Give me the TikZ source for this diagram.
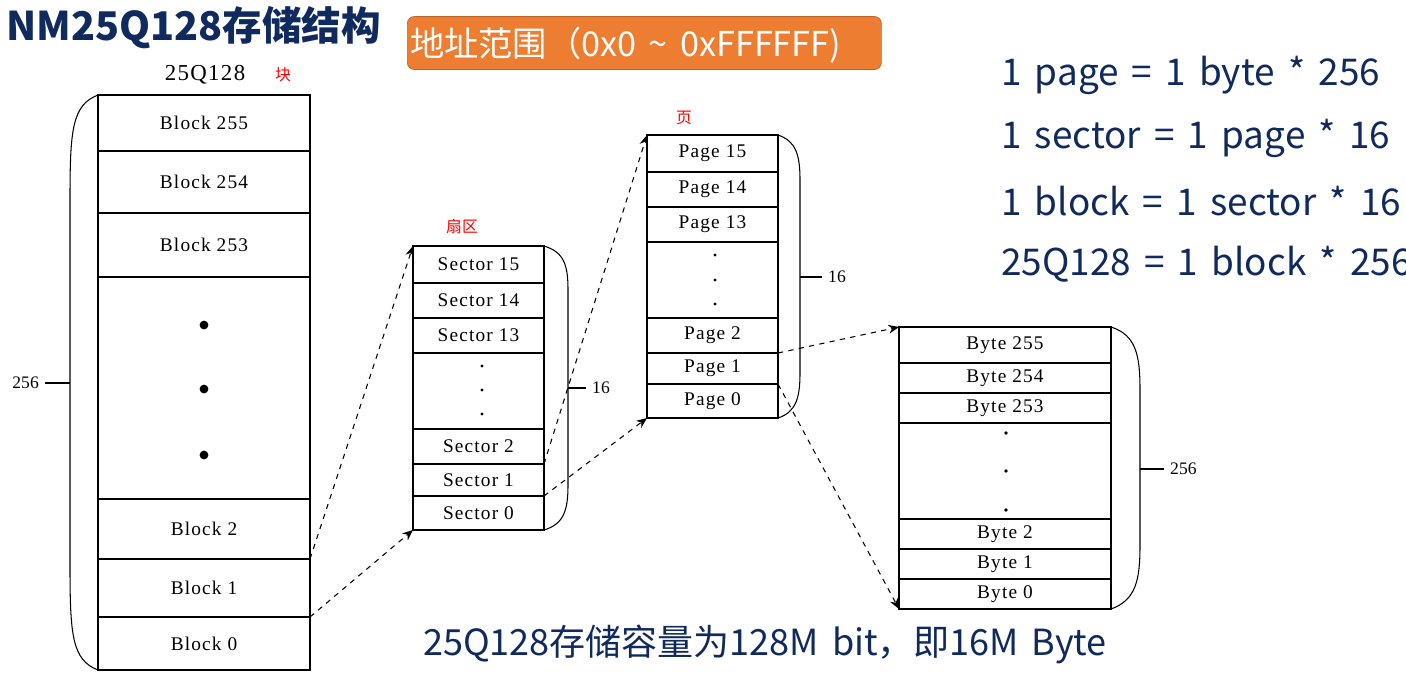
\documentclass[tikz,border=0pt]{standalone}
\usepackage{fontspec}
\setmainfont{Liberation Serif}
\newfontfamily\cjk{Noto Sans CJK SC}
\newfontfamily\cjkw[WordSpace=1.6]{Noto Sans CJK SC}
\newfontfamily\cellfont[LetterSpace=6]{Liberation Serif}
\usetikzlibrary{arrows.meta}
\definecolor{navy}{RGB}{16,42,94}
\definecolor{orng}{RGB}{237,125,49}
\newcommand\cellbox[6]{\node[cell,minimum width={#5*0.02cm},minimum height={(#4-#3)*0.02cm}] (#1) at ({#2+#5/2},{(#3+#4)/2}) {#6};}
\tikzset{cell/.style={draw,line width=0.6pt,inner sep=0pt,outer sep=0pt,font=\cellfont\fontsize{11}{13}\selectfont},
 conn/.style={dashed,line width=0.6pt,-{Stealth[length=6pt,width=5pt]}},
 brace/.style={line width=0.6pt},
 fml/.style={anchor=west,text=navy,font=\cjkw\fontsize{21}{24}\selectfont},
 redlbl/.style={text=red,font=\cjk\fontsize{9}{10}\selectfont},
 dotp/.style={circle,fill,inner sep=0pt,minimum size=#1}}
\begin{document}
\begin{tikzpicture}[x=0.02cm,y=-0.02cm]
\useasboundingbox (0,0) rectangle (1406,674);
\node[anchor=west,text=navy,font=\cjk\bfseries\fontsize{22.5}{26}\selectfont] (title) at (0,28) {NM25Q128存储结构};
\node[draw=orng!80!black,fill=orng,rounded corners=4pt,minimum width={474*0.02cm},minimum height={53*0.02cm},anchor=west] (range) at (407,43) {};
\node[anchor=west,text=white,font=\cjk\fontsize{19.5}{22}\selectfont] (rangetxt) at (404,45) {地址范围（0x0 \textasciitilde{} 0xFFFFFF)};
\node[font=\cellfont\fontsize{13}{15}\selectfont] (chip) at (205,75) {25Q128};
\node[redlbl] (kuai) at (283,75) {块};
\node[redlbl] (shan) at (462,226) {扇区};
\node[redlbl] (ye) at (684,118) {页};
% blocks
\cellbox{b255}{98}{95}{151}{212}{Block 255}
\cellbox{b254}{98}{151}{213}{212}{Block 254}
\cellbox{b253}{98}{213}{277}{212}{Block 253}
\cellbox{bdots}{98}{277}{499}{212}{}
\cellbox{b2}{98}{499}{559}{212}{Block 2}
\cellbox{b1}{98}{559}{617}{212}{Block 1}
\cellbox{b0}{98}{617}{670}{212}{Block 0}
\foreach \y in {325,389,455} \node[dotp=5pt] at (204,\y) {};
% sectors
\cellbox{s15}{413}{246}{283}{131}{Sector 15}
\cellbox{s14}{413}{283}{318}{131}{Sector 14}
\cellbox{s13}{413}{318}{353}{131}{Sector 13}
\cellbox{sdots}{413}{353}{429}{131}{}
\cellbox{s2}{413}{429}{464}{131}{Sector 2}
\cellbox{s1}{413}{464}{496}{131}{Sector 1}
\cellbox{s0}{413}{496}{530}{131}{Sector 0}
\foreach \y in {366,390,414} \node[dotp=1.8pt] at (482,\y) {};
% pages
\cellbox{p15}{647}{135}{172}{131}{Page 15}
\cellbox{p14}{647}{172}{207}{131}{Page 14}
\cellbox{p13}{647}{207}{242}{131}{Page 13}
\cellbox{pdots}{647}{242}{318}{131}{}
\cellbox{p2}{647}{318}{353}{131}{Page 2}
\cellbox{p1}{647}{353}{384}{131}{Page 1}
\cellbox{p0}{647}{384}{418}{131}{Page 0}
\foreach \y in {255,280,304} \node[dotp=1.8pt] at (715,\y) {};
% bytes
\cellbox{y255}{899}{327}{363}{212}{Byte 255}
\cellbox{y254}{899}{363}{393}{212}{Byte 254}
\cellbox{y253}{899}{393}{423}{212}{Byte 253}
\cellbox{ydots}{899}{423}{519}{212}{}
\cellbox{y2}{899}{519}{549}{212}{Byte 2}
\cellbox{y1}{899}{549}{579}{212}{Byte 1}
\cellbox{y0}{899}{579}{609}{212}{Byte 0}
\foreach \y in {433,471,510} \node[dotp=2.2pt] at (1006,\y) {};
% braces
\draw[brace] (b255.north west) .. controls (72,105) and (70,130) .. (70,200) -- (70,565) .. controls (70,635) and (72,660) .. (b0.south west);
\coordinate (l256) at (70,383);
\node[anchor=east,font=\fontsize{10}{12}\selectfont] (t256a) at (45,383) {256};
\draw[brace] (t256a.east) -- (l256);
\draw[brace] (s15.north east) .. controls (564,252) and (568,265) .. (568,290) -- (568,485) .. controls (568,510) and (564,524) .. (s0.south east);
\coordinate (r16a) at (568,388);
\node[anchor=west,font=\fontsize{10}{12}\selectfont] (t16a) at (586,388) {16};
\draw[brace] (r16a) -- (t16a.west);
\draw[brace] (p15.north east) .. controls (796,141) and (800,155) .. (800,180) -- (800,373) .. controls (800,398) and (796,412) .. (p0.south east);
\coordinate (r16b) at (800,277);
\node[anchor=west,font=\fontsize{10}{12}\selectfont] (t16b) at (822,277) {16};
\draw[brace] (r16b) -- (t16b.west);
\draw[brace] (y255.north east) .. controls (1136,335) and (1140,355) .. (1140,390) -- (1140,545) .. controls (1140,580) and (1136,600) .. (y0.south east);
\coordinate (r256) at (1140,469);
\node[anchor=west,font=\fontsize{10}{12}\selectfont] (t256b) at (1164,469) {256};
\draw[brace] (r256) -- (t256b.west);
% connectors
\draw[conn] (b2.south east) -- (s15.north west);
\draw[conn] (b1.south east) -- (s0.south west);
\draw[conn] (s2.south east) -- (p15.north west);
\draw[conn] (s1.south east) -- (p0.south west);
\draw[conn] (p2.south east) -- (y255.north west);
\draw[conn] (p1.south east) -- (y0.south west);
% formulas
\node[fml] (f1) at (995,75) {1 page = 1 byte * 256};
\node[fml] (f2) at (995,138) {1 sector = 1 page * 16};
\node[fml] (f3) at (995,201) {1 block = 1 sector * 16};
\node[fml] (f4) at (995,264) {25Q128 = 1 block * 256};
\node[text=navy,font=\cjk\fontsize{20.5}{24}\selectfont] (cap) at (765,644) {25Q128存储容量为128M bit，即16M Byte};
\end{tikzpicture}
\end{document}
